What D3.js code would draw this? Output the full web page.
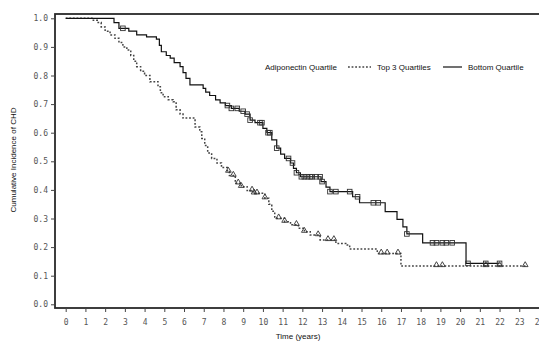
<!DOCTYPE html>
<html>
<head>
<meta charset="utf-8">
<script src="https://cdn.jsdelivr.net/npm/d3@7"></script>
<style>
  body { margin: 0; background: #fff; }
  .tick-lbl { font-family: 'DejaVu Sans Mono', monospace; font-size: 8px; fill: #555; }
  .title { font-family: 'Liberation Sans', Arial, sans-serif; font-size: 8px; fill: #111; }
</style>
</head>
<body>
<div id="chart"></div>
<script>
// step points [time (years), survival] for each group
const bottomTimes = [0, 2.45, 2.7, 3.2, 3.6, 4.1, 4.6, 4.75, 4.85, 5.1, 5.3, 5.5, 5.8, 5.95, 6.1, 6.3, 6.97, 7.1, 7.3, 7.6, 7.83, 8.1, 8.4, 8.8, 9.1, 9.35, 9.6, 10.0, 10.2, 10.45, 10.7, 10.9, 11.1, 11.4, 11.55, 11.7, 11.9, 12.95, 13.2, 13.4, 14.55, 14.9, 16.2, 16.8, 17.1, 17.3, 18.1, 20.3, 22.0];
const bottomValues = [1.0, 0.985, 0.965, 0.955, 0.942, 0.935, 0.927, 0.905, 0.883, 0.87, 0.861, 0.845, 0.831, 0.81, 0.79, 0.767, 0.755, 0.742, 0.73, 0.715, 0.704, 0.695, 0.685, 0.675, 0.665, 0.644, 0.635, 0.615, 0.6, 0.575, 0.546, 0.525, 0.51, 0.494, 0.475, 0.46, 0.446, 0.429, 0.41, 0.394, 0.376, 0.355, 0.324, 0.297, 0.271, 0.246, 0.215, 0.143, 0.143];

const topTimes = [0, 1.4, 1.6, 1.8, 2.0, 2.25, 2.5, 2.7, 2.9, 3.1, 3.3, 3.45, 3.6, 3.8, 4.0, 4.27, 4.68, 4.8, 4.94, 5.2, 5.45, 5.6, 5.8, 5.95, 6.56, 6.8, 6.9, 7.05, 7.2, 7.4, 7.67, 7.9, 8.2, 8.3, 8.6, 8.9, 9.2, 9.5, 10.1, 10.3, 10.45, 10.6, 11.1, 11.4, 11.8, 12.1, 12.4, 12.9, 13.7, 14.2, 14.4, 15.8, 17.0, 23.4];
const topValues = [1.0, 0.993, 0.985, 0.97, 0.955, 0.942, 0.93, 0.915, 0.9, 0.889, 0.87, 0.85, 0.831, 0.815, 0.8, 0.778, 0.761, 0.74, 0.726, 0.715, 0.708, 0.68, 0.665, 0.651, 0.62, 0.603, 0.58, 0.555, 0.529, 0.51, 0.494, 0.478, 0.464, 0.45, 0.423, 0.411, 0.398, 0.388, 0.371, 0.35, 0.325, 0.301, 0.289, 0.278, 0.266, 0.254, 0.242, 0.225, 0.213, 0.207, 0.193, 0.178, 0.134, 0.134];

// censored times (squares = bottom quartile, triangles = top 3 quartiles)
const bottomCensored = [2.9, 8.2, 8.4, 8.7, 9.0, 9.2, 9.35, 9.85, 9.95, 10.26, 10.35, 10.7, 11.3, 11.5, 11.7, 11.95, 12.1, 12.25, 12.4, 12.5, 12.7, 12.9, 13.0, 13.4, 13.7, 14.4, 14.8, 15.6, 15.85, 17.3, 18.6, 18.8, 19.1, 19.3, 19.6, 20.4, 21.3, 22.0];
const topCensored = [8.25, 8.5, 8.75, 8.9, 9.45, 9.55, 9.7, 10.1, 10.8, 11.1, 11.7, 12.1, 12.8, 13.3, 13.6, 16.0, 16.3, 16.85, 18.8, 19.1, 21.3, 22.0, 23.3];

const xTicks = d3.range(0, 25);
const yTicks = [0, 0.1, 0.2, 0.3, 0.4, 0.5, 0.6, 0.7, 0.8, 0.9, 1.0];

const W = 539, H = 341;
const svg = d3.select('#chart').append('svg').attr('width', W).attr('height', H);

const x = d3.scaleLinear().domain([0, 24]).range([65.7, 539]);
const y = d3.scaleLinear().domain([0, 1]).range([304.3, 18.3]);

const frameL = 55, frameT = 14, frameB = 308, frameR = 546;

// frame
svg.append('rect')
	.attr('x', frameL).attr('y', frameT)
	.attr('width', frameR - frameL).attr('height', frameB - frameT)
	.attr('fill', 'none').attr('stroke', '#2a2a2a').attr('stroke-width', 1.8);

// y axis
const yAxis = svg.append('g').attr('transform', 'translate(' + frameL + ',0)')
	.call(d3.axisLeft(y).tickValues(yTicks).tickFormat(d3.format('.1f')).tickSize(4).tickPadding(3));
yAxis.select('.domain').remove();
yAxis.selectAll('line').attr('stroke', '#444');
yAxis.selectAll('text').attr('class', 'tick-lbl').attr('font-size', null).attr('font-family', null);

// x axis
const xAxis = svg.append('g').attr('transform', 'translate(0,' + frameB + ')')
	.call(d3.axisBottom(x).tickValues(xTicks).tickFormat(d3.format('d')).tickSize(4).tickPadding(7));
xAxis.select('.domain').remove();
xAxis.selectAll('line').attr('stroke', '#444');
xAxis.selectAll('text').attr('class', 'tick-lbl').attr('font-size', null).attr('font-family', null);

// axis titles
svg.append('text').attr('class', 'title')
	.attr('transform', 'translate(16,160) rotate(-90)')
	.attr('text-anchor', 'middle')
	.text('Cumulative Incidence of CHD');
svg.append('text').attr('class', 'title')
	.attr('x', 298).attr('y', 339)
	.attr('text-anchor', 'middle')
	.text('Time (years)');

const line = d3.line().curve(d3.curveStepAfter)
	.x((d) => x(d[0])).y((d) => y(d[1]));

const bottom = bottomTimes.map((t, i) => [t, bottomValues[i]]);
const top3 = topTimes.map((t, i) => [t, topValues[i]]);

svg.append('path').datum(top3).attr('d', line)
	.attr('fill', 'none').attr('stroke', '#444').attr('stroke-width', 1.5)
	.attr('stroke-dasharray', '1.8,1.8');
svg.append('path').datum(bottom).attr('d', line)
	.attr('fill', 'none').attr('stroke', '#111').attr('stroke-width', 1.2);

const stepAt = (series, t) => {
	let v = series[0][1];
	series.forEach((d) => { if (d[0] <= t) v = d[1]; });
	return v;
};

// censor marks
svg.selectAll('.sq')
	.data(bottomCensored)
	.enter()
	.append('rect')
	.attr('x', (d) => x(d) - 2.3)
	.attr('y', (d) => y(stepAt(bottom, d)) - 2.3)
	.attr('width', 4.6).attr('height', 4.6)
	.attr('fill', 'none').attr('stroke', '#333').attr('stroke-width', 0.9);

const tri = d3.symbol().type(d3.symbolTriangle).size(14);
svg.selectAll('.tri')
	.data(topCensored)
	.enter()
	.append('path')
	.attr('d', tri)
	.attr('transform', (d) => 'translate(' + x(d) + ',' + (y(stepAt(top3, d)) - 1) + ')')
	.attr('fill', 'none').attr('stroke', '#333').attr('stroke-width', 0.9);

// legend
const lg = svg.append('g').attr('class', 'legend');
lg.append('text').attr('class', 'title').attr('x', 265).attr('y', 70).text('Adiponectin Quartile');
lg.append('line').attr('x1', 348).attr('x2', 371).attr('y1', 67).attr('y2', 67)
	.attr('stroke', '#444').attr('stroke-width', 1.3).attr('stroke-dasharray', '1.8,1.8');
lg.append('text').attr('class', 'title').attr('x', 377).attr('y', 70).text('Top 3 Quartiles');
lg.append('line').attr('x1', 443).attr('x2', 462).attr('y1', 67).attr('y2', 67)
	.attr('stroke', '#111').attr('stroke-width', 1.2);
lg.append('text').attr('class', 'title').attr('x', 468).attr('y', 70).text('Bottom Quartile');
</script>
</body>
</html>
